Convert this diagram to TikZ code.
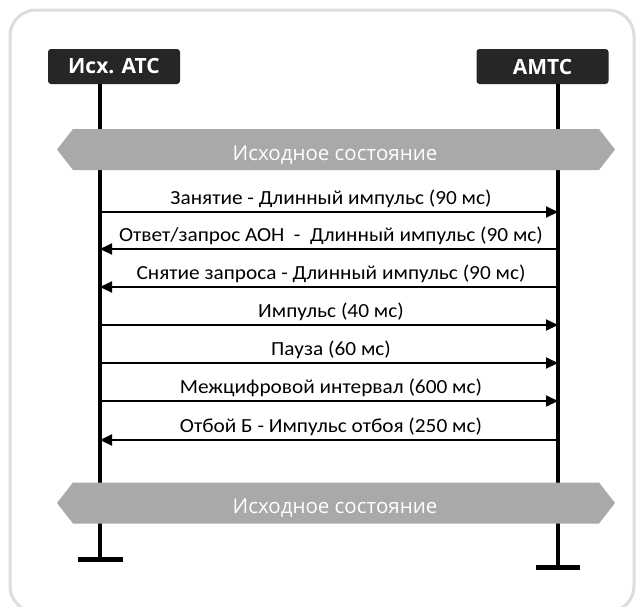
\documentclass[tikz,border=0pt]{standalone}
\usepackage{fontspec}
\setmainfont{Carlito}
\newfontfamily\lblfont[FakeStretch=1.065]{Carlito}
\newfontfamily\hdrfont{Open Sans}
\usetikzlibrary{arrows.meta,shapes.symbols}
\definecolor{hdrfill}{HTML}{262626}
\definecolor{bannerfill}{HTML}{A9A9A9}
\definecolor{framecol}{HTML}{DDDDDD}
\tikzset{
  hdr/.style={draw=none, fill=hdrfill, rounded corners=3pt, text=white,
    minimum width=132pt, minimum height=35pt, inner sep=0pt,
    font=\hdrfont\bfseries\fontsize{21}{23}\selectfont},
  banner/.style={signal, signal to=west and east, signal pointer angle=104,
    fill=bannerfill, draw=none, minimum width=558pt, minimum height=41pt, inner sep=0pt},
  bannertext/.style={text=white, inner sep=0pt, anchor=base,
    font=\hdrfont\fontsize{20.5}{22}\selectfont},
  lifeline/.style={line width=4pt},
  endbar/.style={line width=5pt},
  msg/.style={line width=2pt, -{Triangle[length=12pt,width=11pt]}},
  lbl/.style={font=\lblfont\fontsize{20}{22}\selectfont, inner sep=0pt, anchor=base},
}
\begin{document}
\begin{tikzpicture}[x=1pt,y=-1pt]
\useasboundingbox (0,0) rectangle (640,606);
\fill[white] (0,0) rectangle (640,606);
\draw[framecol, line width=3pt, rounded corners=26pt] (10,10) rectangle (634,612);
% headers
\node[hdr] (hA) at (114,66.5) {Исх. АТС};
\node[hdr] (hB) at (542.5,66.5) {АМТС};
% lifeline ends
\coordinate (Ltop) at (100,84);
\coordinate (Rtop) at (558,84);
\coordinate (Lend) at (100,559);
\coordinate (Rend) at (558,567);
\draw[lifeline] (Ltop) -- (Lend);
\draw[lifeline] (Rtop) -- (Rend);
\draw[endbar] (78,559) -- (123,559);
\draw[endbar] (536,567) -- (580,567);
% banners
\node[banner] (b1) at (336,149.5) {};
\node[bannertext] (bt1) at (335,160) {Исходное состояние};
\node[banner] (b2) at (336,503) {};
\node[bannertext] (bt2) at (335,513.5) {Исходное состояние};
% message points
\foreach \n/\y in {1/212,2/249,3/287,4/325,5/363,6/401,7/440}{
  \coordinate (L\n) at (100,\y);
  \coordinate (R\n) at (558,\y);
}
\draw[msg] (L1) -- (R1);
\draw[msg] (R2) -- (L2);
\draw[msg] (R3) -- (L3);
\draw[msg] (L4) -- (R4);
\draw[msg] (L5) -- (R5);
\draw[msg] (L6) -- (R6);
\draw[msg] (R7) -- (L7);
\node[lbl] (t1) at (331,204) {Занятие - Длинный импульс (90 мс)};
\node[lbl] (t2) at (331,241) {Ответ/запрос АОН~ - ~Длинный импульс (90 мс)};
\node[lbl] (t3) at (331,279) {Снятие запроса - Длинный импульс (90 мс)};
\node[lbl] (t4) at (331,317) {Импульс (40 мс)};
\node[lbl] (t5) at (331,355) {Пауза (60 мс)};
\node[lbl] (t6) at (331,393) {Межцифровой интервал (600 мс)};
\node[lbl] (t7) at (331,432) {Отбой Б - Импульс отбоя (250 мс)};
\end{tikzpicture}
\end{document}
